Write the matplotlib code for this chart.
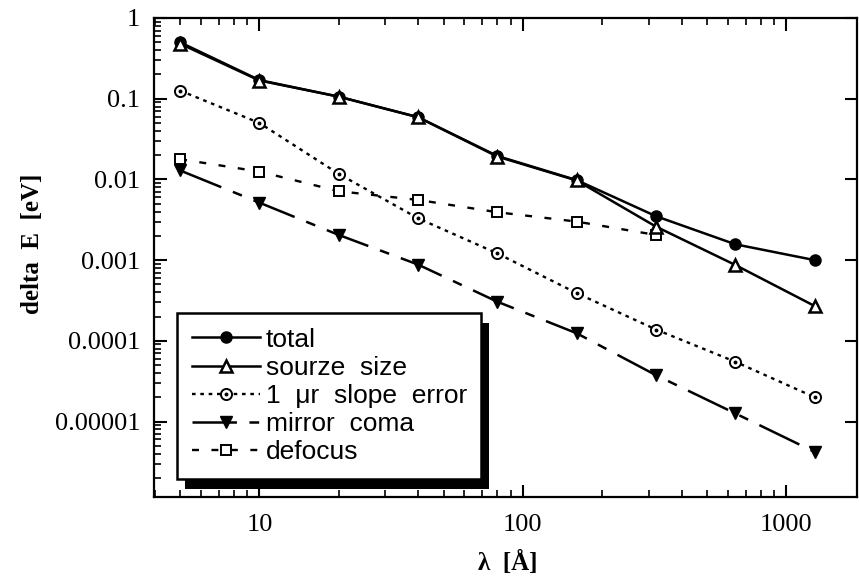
import numpy as np
import matplotlib
matplotlib.use("Agg")
import matplotlib.pyplot as plt
from matplotlib.patches import Rectangle
from matplotlib.legend_handler import HandlerTuple
from matplotlib.ticker import LogLocator, NullFormatter, FixedLocator, FixedFormatter

plt.rcParams['lines.scale_dashes'] = False

# wavelength [Angstrom]
wavelength = [5, 10, 20, 40, 80, 160, 320, 640, 1280]
total = [0.50, 0.17, 0.106, 0.059, 0.0195, 0.0098, 0.0035, 0.00157, 0.0010]
source_size = [0.48, 0.168, 0.106, 0.059, 0.0192, 0.0097, 0.0026, 0.00087, 0.00027]
slope_error = [0.126, 0.050, 0.0117, 0.0033, 0.00121, 0.00039, 0.000138, 5.5e-5, 2.0e-5]
mirror_coma = [0.0129, 0.00515, 0.00205, 0.00088, 0.000305, 0.000124, 3.75e-5, 1.26e-5, 4.2e-6]
defocus_x = [5, 10, 20, 40, 80, 160, 320]
defocus = [0.0178, 0.0125, 0.00714, 0.00557, 0.00392, 0.0030, 0.00205]

labels = ["total", "sourze  size", "1  \u03bcr  slope  error", "mirror  coma", "defocus"]
ytick_vals = [1, 0.1, 0.01, 0.001, 0.0001, 0.00001]
ytick_txt = ["1", "0.1", "0.01", "0.001", "0.0001", "0.00001"]

fig = plt.figure(figsize=(8.59, 5.85), dpi=100)
ax = fig.add_axes([154/859, 1 - 497/585, (857 - 154)/859, (497 - 18)/585])

lw = 1.8
l_tot, = ax.plot(wavelength, total, '-', color='k', lw=lw, marker='o', ms=8,
                 mfc='k', mec='k', zorder=3)
l_src, = ax.plot(wavelength, source_size, '-', color='k', lw=lw, marker='^', ms=9,
                 mfc='white', mec='k', mew=1.8, zorder=4)
l_slo, = ax.plot(wavelength, slope_error, color='k', lw=1.7, ls=(0, (2.6, 3.4)),
                 marker='o', ms=8, mfc='white', mec='k', mew=1.4, zorder=3)
d_slo, = ax.plot(wavelength, slope_error, ls='none', marker='o', ms=1.8,
                 color='k', zorder=4)
l_com, = ax.plot(wavelength, mirror_coma, color='k', lw=lw, ls=(0, (32, 9, 7, 9)),
                 marker='v', ms=9, mfc='k', mec='k', zorder=3)
l_def, = ax.plot(defocus_x, defocus, color='k', lw=1.7, ls=(0, (5, 9)),
                 marker='s', ms=6.5, mfc='white', mec='k', mew=1.4, zorder=3)

ax.set_xscale('log')
ax.set_yscale('log')
ax.set_xlim(3.98, 1854)
ax.set_ylim(1.16e-6, 1.0)

serif = ['Liberation Serif', 'DejaVu Serif']
ax.yaxis.set_major_locator(FixedLocator(ytick_vals))
ax.yaxis.set_major_formatter(FixedFormatter(ytick_txt))
ax.xaxis.set_major_locator(FixedLocator([10, 100, 1000]))
ax.xaxis.set_major_formatter(FixedFormatter(["10", "100", "1000"]))
ax.xaxis.set_minor_locator(LogLocator(base=10, subs=np.arange(2, 10), numticks=20))
ax.yaxis.set_minor_locator(LogLocator(base=10, subs=np.arange(2, 10), numticks=20))
ax.xaxis.set_minor_formatter(NullFormatter())
ax.yaxis.set_minor_formatter(NullFormatter())

ax.tick_params(which='major', direction='in', length=9, width=1.5,
               top=True, right=True, labelsize=19, pad=10)
ax.tick_params(which='minor', direction='in', length=5, width=1.2,
               top=True, right=False)
ax.tick_params(axis='x', which='major', pad=12)
for lab in ax.get_xticklabels() + ax.get_yticklabels():
    lab.set_family(serif)

for s in ax.spines.values():
    s.set_linewidth(1.6)

fig.text(32/859, 1 - 244/585, "delta  E  [eV]", rotation=90, ha='center', va='center',
         fontsize=18, fontweight='bold', family=serif)
fig.text(508/859, 1 - 563/585, "\u03bb  [\u00c5]", ha='center', va='center',
         fontsize=18, fontweight='bold', family=serif)

handles = [l_tot, l_src, (l_slo, d_slo), l_com, l_def]
leg = ax.legend(handles, labels, loc='upper left', bbox_to_anchor=(0.033, 0.384),
                borderaxespad=0, frameon=True, fancybox=False, handlelength=2.6,
                handletextpad=0.2, labelspacing=0.16, borderpad=0.55,
                prop={'family': ['Liberation Sans', 'DejaVu Sans'], 'size': 19},
                handler_map={tuple: HandlerTuple(ndivide=1)})
leg.get_frame().set_edgecolor('k')
leg.get_frame().set_linewidth(1.8)
leg.get_frame().set_alpha(1)
leg.set_zorder(6)

# heavy drop shadow below/right of the legend box
fig.canvas.draw()
bb = leg.get_window_extent()
inv = ax.transAxes.inverted()
x0, y0 = inv.transform((bb.x0 + 8, bb.y0 - 10))
x1, y1 = inv.transform((bb.x1 + 8, bb.y1 - 10))
ax.add_patch(Rectangle((x0, y0), x1 - x0, y1 - y0, transform=ax.transAxes,
                       facecolor='k', edgecolor='none', zorder=5, clip_on=False))

fig.savefig("out.png", dpi=100)
